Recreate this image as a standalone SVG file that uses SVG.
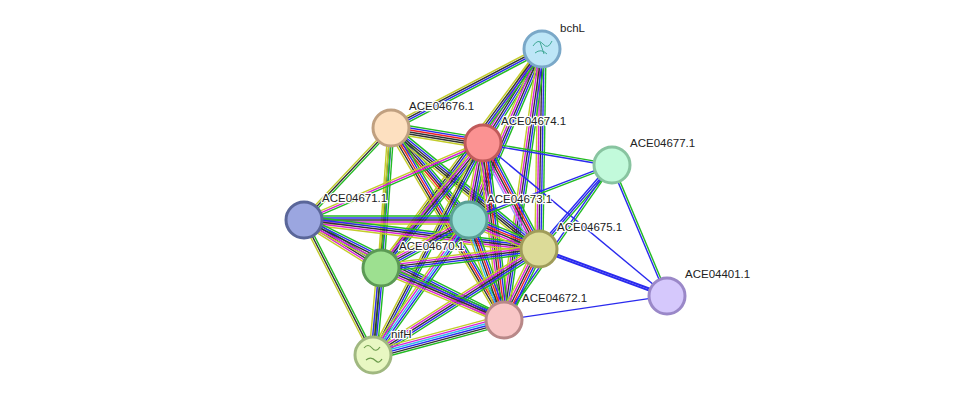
<svg xmlns="http://www.w3.org/2000/svg" width="975" height="401" viewBox="0 0 975 401">
<style>
line{stroke-width:1.4;fill:none}
.g{stroke:#22bb22}.b{stroke:#2a2aee}.k{stroke:#333}.m{stroke:#d822d8}.y{stroke:#c3cc2a}.r{stroke:#ee2222}.c{stroke:#33bbee}.l{stroke:#9999ff}
circle{stroke-width:3}
text{font-family:"Liberation Sans",Arial,sans-serif;font-size:11.5px;fill:#222;paint-order:stroke;stroke:#fff;stroke-width:2.5px;stroke-linejoin:round}
</style>
<rect width="975" height="401" fill="#fff"/>
<g id="edges">
<g transform="translate(542,49) rotate(152.4)"><line x2="170" y1="-3" y2="-3" class="g"/><line x2="170" y1="-1" y2="-1" class="b"/><line x2="170" y1="1" y2="1" class="k"/><line x2="170" y1="3" y2="3" class="y"/></g>
<g transform="translate(542,49) rotate(122.1)"><line x2="111" y1="-4" y2="-4" class="g"/><line x2="111" y1="-2" y2="-2" class="b"/><line x2="111" class="k"/><line x2="111" y1="2" y2="2" class="m"/><line x2="111" y1="4" y2="4" class="y"/></g>
<g transform="translate(542,49) rotate(113.1)"><line x2="186" y1="-4" y2="-4" class="g"/><line x2="186" y1="-2" y2="-2" class="b"/><line x2="186" class="k"/><line x2="186" y1="2" y2="2" class="m"/><line x2="186" y1="4" y2="4" class="y"/></g>
<g transform="translate(542,49) rotate(90.9)"><line x2="200" y1="-4" y2="-4" class="g"/><line x2="200" y1="-2" y2="-2" class="b"/><line x2="200" class="k"/><line x2="200" y1="2" y2="2" class="m"/><line x2="200" y1="4" y2="4" class="y"/></g>
<g transform="translate(542,49) rotate(98)"><line x2="274" y1="-4" y2="-4" class="g"/><line x2="274" y1="-2" y2="-2" class="b"/><line x2="274" class="k"/><line x2="274" y1="2" y2="2" class="m"/><line x2="274" y1="4" y2="4" class="y"/></g>
<g transform="translate(542,49) rotate(126.3)"><line x2="272" y1="-3" y2="-3" class="g"/><line x2="272" y1="-1" y2="-1" class="b"/><line x2="272" y1="1" y2="1" class="k"/><line x2="272" y1="3" y2="3" class="y"/></g>
<g transform="translate(391,128) rotate(9.3)"><line x2="93" y1="-5" y2="-5" class="g"/><line x2="93" y1="-3" y2="-3" class="b"/><line x2="93" y1="-1" y2="-1" class="r"/><line x2="93" y1="1" y2="1" class="k"/><line x2="93" y1="3" y2="3" class="k"/><line x2="93" y1="5" y2="5" class="y"/></g>
<g transform="translate(391,128) rotate(133.4)"><line x2="127" y1="-2" y2="-2" class="g"/><line x2="127" class="k"/><line x2="127" y1="2" y2="2" class="y"/></g>
<g transform="translate(391,128) rotate(94.1)"><line x2="140" y1="-3" y2="-3" class="g"/><line x2="140" y1="-1" y2="-1" class="b"/><line x2="140" y1="1" y2="1" class="k"/><line x2="140" y1="3" y2="3" class="y"/></g>
<g transform="translate(391,128) rotate(49.7)"><line x2="121" y1="-4" y2="-4" class="g"/><line x2="121" y1="-2" y2="-2" class="b"/><line x2="121" class="k"/><line x2="121" y1="2" y2="2" class="r"/><line x2="121" y1="4" y2="4" class="y"/></g>
<g transform="translate(391,128) rotate(39.3)"><line x2="191" y1="-4" y2="-4" class="g"/><line x2="191" y1="-2" y2="-2" class="b"/><line x2="191" class="k"/><line x2="191" y1="2" y2="2" class="k"/><line x2="191" y1="4" y2="4" class="y"/></g>
<g transform="translate(391,128) rotate(59.5)"><line x2="223" y1="-4" y2="-4" class="g"/><line x2="223" y1="-2" y2="-2" class="b"/><line x2="223" class="r"/><line x2="223" y1="2" y2="2" class="k"/><line x2="223" y1="4" y2="4" class="y"/></g>
<g transform="translate(391,128) rotate(94.5)"><line x2="228" y1="-1" y2="-1" class="g"/><line x2="228" y1="1" y2="1" class="y"/></g>
<g transform="translate(483,143) rotate(9.7)"><line x2="131" y1="-1" y2="-1" class="g"/><line x2="131" y1="1" y2="1" class="b"/></g>
<g transform="translate(483,143) rotate(156.7)"><line x2="195" y1="-2" y2="-2" class="g"/><line x2="195" class="m"/><line x2="195" y1="2" y2="2" class="y"/></g>
<g transform="translate(483,143) rotate(100.3)"><line x2="78" y1="-4" y2="-4" class="g"/><line x2="78" y1="-2" y2="-2" class="b"/><line x2="78" class="k"/><line x2="78" y1="2" y2="2" class="m"/><line x2="78" y1="4" y2="4" class="y"/></g>
<g transform="translate(483,143) rotate(62.2)"><line x2="120" y1="-5" y2="-5" class="g"/><line x2="120" y1="-3" y2="-3" class="b"/><line x2="120" y1="-1" y2="-1" class="r"/><line x2="120" y1="1" y2="1" class="k"/><line x2="120" y1="3" y2="3" class="m"/><line x2="120" y1="5" y2="5" class="l"/></g>
<g transform="translate(483,143) rotate(129.2)"><line x2="161" y1="-4" y2="-4" class="g"/><line x2="161" y1="-2" y2="-2" class="b"/><line x2="161" class="k"/><line x2="161" y1="2" y2="2" class="m"/><line x2="161" y1="4" y2="4" class="y"/></g>
<g transform="translate(483,143) rotate(83.2)"><line x2="178" y1="-5" y2="-5" class="g"/><line x2="178" y1="-3" y2="-3" class="b"/><line x2="178" y1="-1" y2="-1" class="r"/><line x2="178" y1="1" y2="1" class="k"/><line x2="178" y1="3" y2="3" class="m"/><line x2="178" y1="5" y2="5" class="y"/></g>
<g transform="translate(483,143) rotate(117.4)"><line x2="239" y1="-3" y2="-3" class="g"/><line x2="239" y1="-1" y2="-1" class="b"/><line x2="239" y1="1" y2="1" class="k"/><line x2="239" y1="3" y2="3" class="y"/></g>
<g transform="translate(483,143) rotate(39.7)"><line x2="239" class="b"/></g>
<g transform="translate(612,165) rotate(159)"><line x2="153" y1="-1" y2="-1" class="g"/><line x2="153" y1="1" y2="1" class="b"/></g>
<g transform="translate(612,165) rotate(131)"><line x2="111" y1="-2" y2="-2" class="g"/><line x2="111" class="b"/><line x2="111" y1="2" y2="2" class="b"/></g>
<g transform="translate(612,165) rotate(124.9)"><line x2="189" y1="-1" y2="-1" class="g"/><line x2="189" y1="1" y2="1" class="b"/></g>
<g transform="translate(612,165) rotate(67.2)"><line x2="142" y1="-1" y2="-1" class="g"/><line x2="142" y1="1" y2="1" class="b"/></g>
<g transform="translate(304,220)"><line x2="165" y1="-4" y2="-4" class="g"/><line x2="165" y1="-2" y2="-2" class="b"/><line x2="165" class="k"/><line x2="165" y1="2" y2="2" class="m"/><line x2="165" y1="4" y2="4" class="y"/></g>
<g transform="translate(304,220) rotate(7)"><line x2="237" y1="-4" y2="-4" class="g"/><line x2="237" y1="-2" y2="-2" class="b"/><line x2="237" class="k"/><line x2="237" y1="2" y2="2" class="m"/><line x2="237" y1="4" y2="4" class="y"/></g>
<g transform="translate(304,220) rotate(31.9)"><line x2="91" y1="-4" y2="-4" class="g"/><line x2="91" y1="-2" y2="-2" class="b"/><line x2="91" class="k"/><line x2="91" y1="2" y2="2" class="m"/><line x2="91" y1="4" y2="4" class="y"/></g>
<g transform="translate(304,220) rotate(26.6)"><line x2="224" y1="-4" y2="-4" class="g"/><line x2="224" y1="-2" y2="-2" class="b"/><line x2="224" class="k"/><line x2="224" y1="2" y2="2" class="m"/><line x2="224" y1="4" y2="4" class="y"/></g>
<g transform="translate(304,220) rotate(62.9)"><line x2="152" y1="-2" y2="-2" class="g"/><line x2="152" class="k"/><line x2="152" y1="2" y2="2" class="y"/></g>
<g transform="translate(469,220) rotate(22.5)"><line x2="76" y1="-5" y2="-5" class="g"/><line x2="76" y1="-3" y2="-3" class="b"/><line x2="76" y1="-1" y2="-1" class="r"/><line x2="76" y1="1" y2="1" class="k"/><line x2="76" y1="3" y2="3" class="m"/><line x2="76" y1="5" y2="5" class="y"/></g>
<g transform="translate(469,220) rotate(151.4)"><line x2="100" y1="-4" y2="-4" class="g"/><line x2="100" y1="-2" y2="-2" class="b"/><line x2="100" class="k"/><line x2="100" y1="2" y2="2" class="m"/><line x2="100" y1="4" y2="4" class="y"/></g>
<g transform="translate(469,220) rotate(70.7)"><line x2="106" y1="-5" y2="-5" class="g"/><line x2="106" y1="-3" y2="-3" class="b"/><line x2="106" y1="-1" y2="-1" class="r"/><line x2="106" y1="1" y2="1" class="k"/><line x2="106" y1="3" y2="3" class="c"/><line x2="106" y1="5" y2="5" class="y"/></g>
<g transform="translate(469,220) rotate(125.4)"><line x2="166" y1="-4" y2="-4" class="g"/><line x2="166" y1="-2" y2="-2" class="b"/><line x2="166" class="c"/><line x2="166" y1="2" y2="2" class="m"/><line x2="166" y1="4" y2="4" class="y"/></g>
<g transform="translate(539,249) rotate(173.1)"><line x2="159" y1="-4" y2="-4" class="g"/><line x2="159" y1="-2" y2="-2" class="b"/><line x2="159" class="k"/><line x2="159" y1="2" y2="2" class="m"/><line x2="159" y1="4" y2="4" class="y"/></g>
<g transform="translate(539,249) rotate(116.2)"><line x2="79" y1="-5" y2="-5" class="g"/><line x2="79" y1="-3" y2="-3" class="b"/><line x2="79" y1="-1" y2="-1" class="r"/><line x2="79" y1="1" y2="1" class="k"/><line x2="79" y1="3" y2="3" class="m"/><line x2="79" y1="5" y2="5" class="y"/></g>
<g transform="translate(539,249) rotate(147.4)"><line x2="197" y1="-4" y2="-4" class="g"/><line x2="197" y1="-2" y2="-2" class="b"/><line x2="197" class="k"/><line x2="197" y1="2" y2="2" class="m"/><line x2="197" y1="4" y2="4" class="y"/></g>
<g transform="translate(539,249) rotate(20.2)"><line x2="136" y1="-1" y2="-1" class="b" style="stroke-width:2"/><line x2="136" y1="1" y2="1" class="b" style="stroke-width:2"/></g>
<g transform="translate(381,268) rotate(22.9)"><line x2="134" y1="-4" y2="-4" class="g"/><line x2="134" y1="-2" y2="-2" class="b"/><line x2="134" class="k"/><line x2="134" y1="2" y2="2" class="m"/><line x2="134" y1="4" y2="4" class="y"/></g>
<g transform="translate(381,268) rotate(95.3)"><line x2="87" y1="-4" y2="-4" class="g"/><line x2="87" y1="-2" y2="-2" class="b"/><line x2="87" class="k"/><line x2="87" y1="2" y2="2" class="b"/><line x2="87" y1="4" y2="4" class="y"/></g>
<g transform="translate(504,320) rotate(165)"><line x2="136" y1="-5" y2="-5" class="g"/><line x2="136" y1="-3" y2="-3" class="k"/><line x2="136" y1="-1" y2="-1" class="b"/><line x2="136" y1="1" y2="1" class="c"/><line x2="136" y1="3" y2="3" class="m"/><line x2="136" y1="5" y2="5" class="y"/></g>
<g transform="translate(504,320) rotate(-8.4)"><line x2="165" class="b"/></g>
</g>
<g id="bchL"><circle cx="542" cy="49" r="18" fill="#bde6f7" stroke="#7aa8c8"/><path d="M533 46 q5-8 10-2 q5 6 9-3 M535 53 q6-5 12 1 M540 42 l4 12" stroke="#4a9" fill="none" stroke-width="1"/><text x="560" y="32">bchL</text></g>
<g id="ACE04676.1"><circle cx="391" cy="128" r="18" fill="#fde0c0" stroke="#c0a080"/><text x="409" y="110">ACE04676.1</text></g>
<g id="ACE04674.1"><circle cx="483" cy="143" r="18" fill="#fb9292" stroke="#c05a5a"/><text x="501" y="125">ACE04674.1</text></g>
<g id="ACE04677.1"><circle cx="612" cy="165" r="18" fill="#c2fadb" stroke="#88c4a0"/><text x="630" y="147">ACE04677.1</text></g>
<g id="ACE04671.1"><circle cx="304" cy="220" r="18" fill="#9ba6e0" stroke="#5a6699"/><text x="322" y="202">ACE04671.1</text></g>
<g id="ACE04673.1"><circle cx="469" cy="220" r="18" fill="#98dfd6" stroke="#5aa096"/><text x="487" y="203">ACE04673.1</text></g>
<g id="ACE04675.1"><circle cx="539" cy="249" r="18" fill="#dcdb98" stroke="#a09c5a"/><text x="557" y="231">ACE04675.1</text></g>
<g id="ACE04670.1"><circle cx="381" cy="268" r="18" fill="#9de090" stroke="#5c9a55"/><text x="399" y="250">ACE04670.1</text></g>
<g id="ACE04401.1"><circle cx="667" cy="296" r="18" fill="#d5c8fc" stroke="#9a88c8"/><text x="685" y="278">ACE04401.1</text></g>
<g id="ACE04672.1"><circle cx="504" cy="320" r="18" fill="#f8c6c6" stroke="#b88888"/><text x="522" y="302">ACE04672.1</text></g>
<g id="nifH"><circle cx="373" cy="355" r="18" fill="#e8f7c2" stroke="#a0b880"/><path d="M364 348 q4-5 8 0 q4 5 8-1 M366 360 q5-4 10 1 q3 3 6-2" stroke="#6a9a4a" fill="none" stroke-width="1.2"/><text x="391" y="338">nifH</text></g>
</svg>
